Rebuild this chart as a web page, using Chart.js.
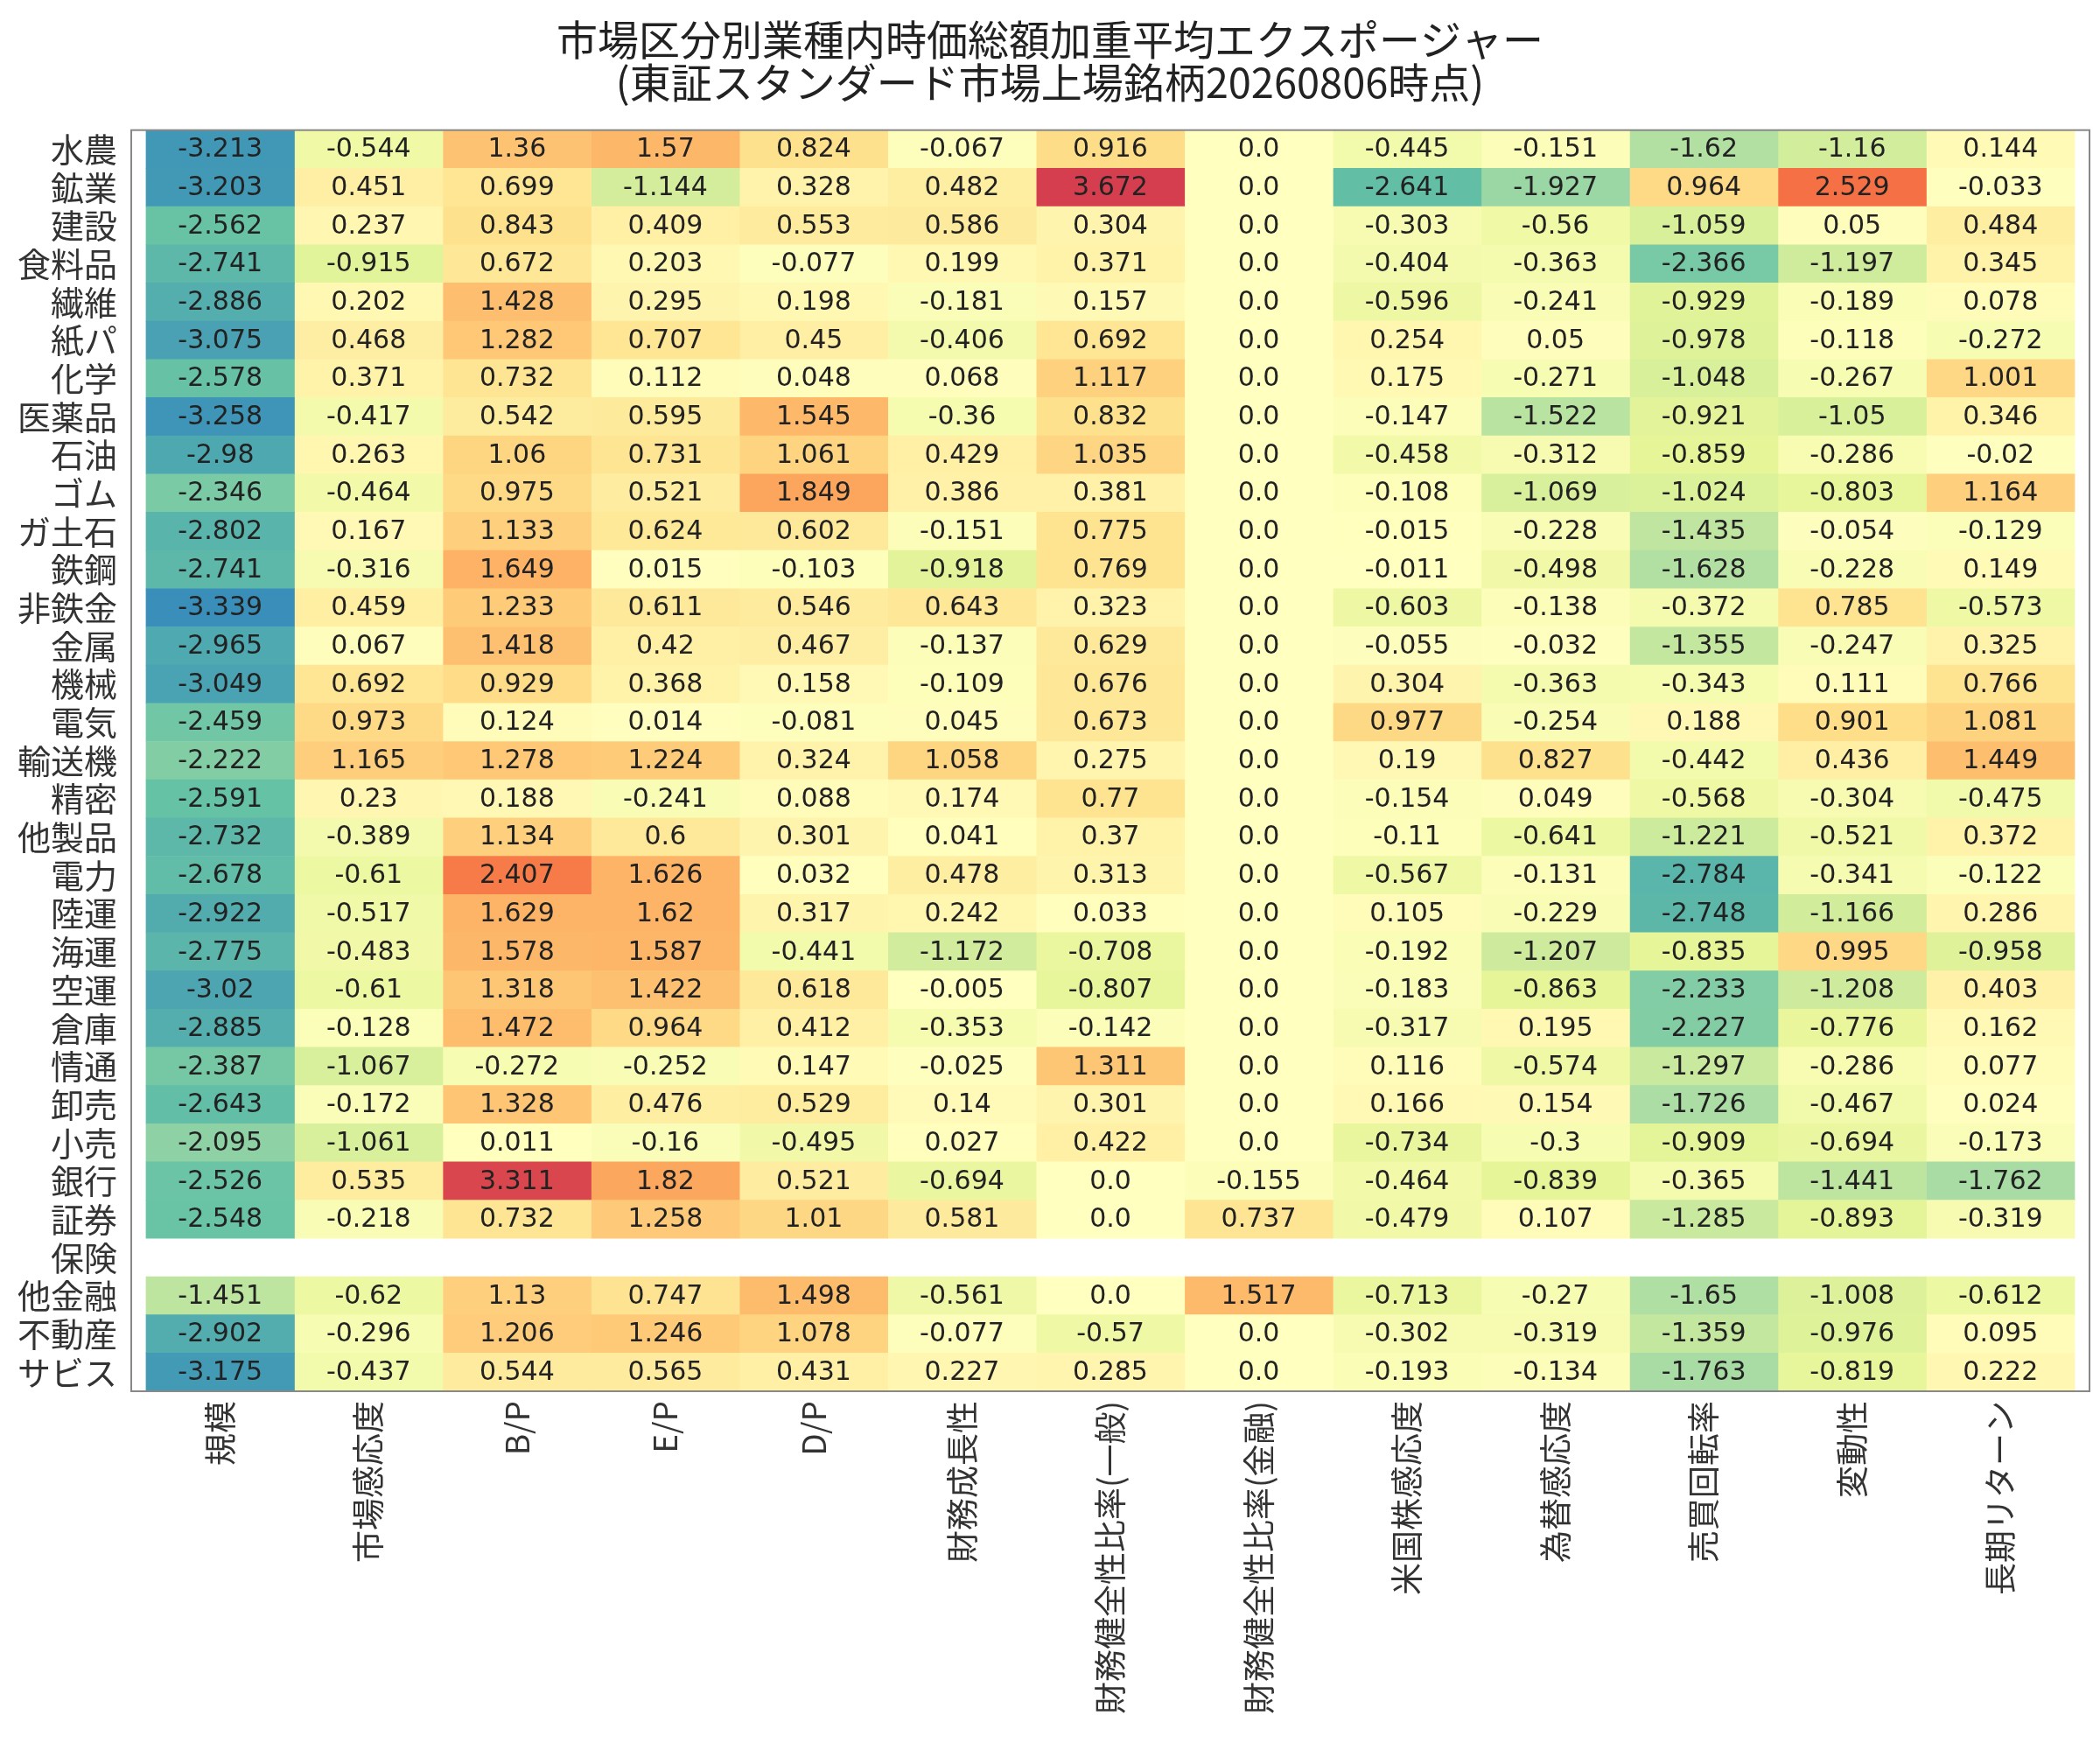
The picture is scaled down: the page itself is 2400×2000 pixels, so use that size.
<!DOCTYPE html>
<html>
<head>
<meta charset="utf-8">
<script src="https://cdn.jsdelivr.net/npm/chart.js@4"></script>
<style>
  body { margin: 0; background: #fff; }
  #wrap { width: 2400px; height: 2000px; }
</style>
</head>
<body>
<div id="wrap"><canvas id="heat"></canvas></div>
<script>
const sectors = ['水農','鉱業','建設','食料品','繊維','紙パ','化学','医薬品','石油','ゴム','ガ土石','鉄鋼','非鉄金','金属','機械','電気','輸送機','精密','他製品','電力','陸運','海運','空運','倉庫','情通','卸売','小売','銀行','証券','保険','他金融','不動産','サビス'];
const factors = ['規模','市場感応度','B/P','E/P','D/P','財務成長性','財務健全性比率(一般)','財務健全性比率(金融)','米国株感応度','為替感応度','売買回転率','変動性','長期リターン'];

const size = [-3.213,-3.203,-2.562,-2.741,-2.886,-3.075,-2.578,-3.258,-2.98,-2.346,-2.802,-2.741,-3.339,-2.965,-3.049,-2.459,-2.222,-2.591,-2.732,-2.678,-2.922,-2.775,-3.02,-2.885,-2.387,-2.643,-2.095,-2.526,-2.548,null,-1.451,-2.902,-3.175];
const beta = [-0.544,0.451,0.237,-0.915,0.202,0.468,0.371,-0.417,0.263,-0.464,0.167,-0.316,0.459,0.067,0.692,0.973,1.165,0.23,-0.389,-0.61,-0.517,-0.483,-0.61,-0.128,-1.067,-0.172,-1.061,0.535,-0.218,null,-0.62,-0.296,-0.437];
const bp = [1.36,0.699,0.843,0.672,1.428,1.282,0.732,0.542,1.06,0.975,1.133,1.649,1.233,1.418,0.929,0.124,1.278,0.188,1.134,2.407,1.629,1.578,1.318,1.472,-0.272,1.328,0.011,3.311,0.732,null,1.13,1.206,0.544];
const ep = [1.57,-1.144,0.409,0.203,0.295,0.707,0.112,0.595,0.731,0.521,0.624,0.015,0.611,0.42,0.368,0.014,1.224,-0.241,0.6,1.626,1.62,1.587,1.422,0.964,-0.252,0.476,-0.16,1.82,1.258,null,0.747,1.246,0.565];
const dp = [0.824,0.328,0.553,-0.077,0.198,0.45,0.048,1.545,1.061,1.849,0.602,-0.103,0.546,0.467,0.158,-0.081,0.324,0.088,0.301,0.032,0.317,-0.441,0.618,0.412,0.147,0.529,-0.495,0.521,1.01,null,1.498,1.078,0.431];
const growth = [-0.067,0.482,0.586,0.199,-0.181,-0.406,0.068,-0.36,0.429,0.386,-0.151,-0.918,0.643,-0.137,-0.109,0.045,1.058,0.174,0.041,0.478,0.242,-1.172,-0.005,-0.353,-0.025,0.14,0.027,-0.694,0.581,null,-0.561,-0.077,0.227];
const healthGen = [0.916,3.672,0.304,0.371,0.157,0.692,1.117,0.832,1.035,0.381,0.775,0.769,0.323,0.629,0.676,0.673,0.275,0.77,0.37,0.313,0.033,-0.708,-0.807,-0.142,1.311,0.301,0.422,0.0,0.0,null,0.0,-0.57,0.285];
const healthFin = [0,0,0,0,0,0,0,0,0,0,0,0,0,0,0,0,0,0,0,0,0,0,0,0,0,0,0,-0.155,0.737,null,1.517,0,0];
const usBeta = [-0.445,-2.641,-0.303,-0.404,-0.596,0.254,0.175,-0.147,-0.458,-0.108,-0.015,-0.011,-0.603,-0.055,0.304,0.977,0.19,-0.154,-0.11,-0.567,0.105,-0.192,-0.183,-0.317,0.116,0.166,-0.734,-0.464,-0.479,null,-0.713,-0.302,-0.193];
const fx = [-0.151,-1.927,-0.56,-0.363,-0.241,0.05,-0.271,-1.522,-0.312,-1.069,-0.228,-0.498,-0.138,-0.032,-0.363,-0.254,0.827,0.049,-0.641,-0.131,-0.229,-1.207,-0.863,0.195,-0.574,0.154,-0.3,-0.839,0.107,null,-0.27,-0.319,-0.134];
const turnover = [-1.62,0.964,-1.059,-2.366,-0.929,-0.978,-1.048,-0.921,-0.859,-1.024,-1.435,-1.628,-0.372,-1.355,-0.343,0.188,-0.442,-0.568,-1.221,-2.784,-2.748,-0.835,-2.233,-2.227,-1.297,-1.726,-0.909,-0.365,-1.285,null,-1.65,-1.359,-1.763];
const vol = [-1.16,2.529,0.05,-1.197,-0.189,-0.118,-0.267,-1.05,-0.286,-0.803,-0.054,-0.228,0.785,-0.247,0.111,0.901,0.436,-0.304,-0.521,-0.341,-1.166,0.995,-1.208,-0.776,-0.286,-0.467,-0.694,-1.441,-0.893,null,-1.008,-0.976,-0.819];
const longRet = [0.144,-0.033,0.484,0.345,0.078,-0.272,1.001,0.346,-0.02,1.164,-0.129,0.149,-0.573,0.325,0.766,1.081,1.449,-0.475,0.372,-0.122,0.286,-0.958,0.403,0.162,0.077,0.024,-0.173,-1.762,-0.319,null,-0.612,0.095,0.222];

const columns = [size, beta, bp, ep, dp, growth, healthGen, healthFin, usBeta, fx, turnover, vol, longRet];

// Spectral_r (端の色は除く)
const stops = ['#3288bd','#66c2a5','#abdda4','#e6f598','#ffffbf','#fee08b','#fdae61','#f46d43','#d53e4f'];
const zmax = 3.45;
function hex(h) { return [1,3,5].map(i => parseInt(h.substr(i,2),16)); }
function colorFor(v) {
    if (v === null) return 'rgba(0,0,0,0)';
    let t = (v + zmax) / (2 * zmax);
    t = Math.max(0, Math.min(1, t)) * (stops.length - 1);
    const i = Math.min(Math.floor(t), stops.length - 2);
    const f = t - i;
    const a = hex(stops[i]), b = hex(stops[i+1]);
    const c = a.map((x, k) => Math.round(x + (b[k] - x) * f));
    return `rgb(${c[0]},${c[1]},${c[2]})`;
}
function fmt(v) { return v === 0 ? '0.0' : String(v); }

const datasets = columns.map((col, i) => ({
    label: factors[i],
    data: col.map(v => v === null ? null : 1),
    raw: col,
    backgroundColor: col.map(colorFor),
    borderWidth: 0,
    barPercentage: 1,
    categoryPercentage: 1,
    stack: 's'
}));

const cellText = {
    id: 'cellText',
    afterDatasetsDraw(chart) {
        const ctx = chart.ctx;
        ctx.save();
        ctx.font = '30px "DejaVu Sans"';
        ctx.fillStyle = '#222';
        ctx.textAlign = 'center';
        ctx.textBaseline = 'middle';
        chart.data.datasets.forEach((ds, di) => {
            chart.getDatasetMeta(di).data.forEach((el, j) => {
                const v = ds.raw[j];
                if (v === null) return;
                ctx.fillText(fmt(v), (el.x + el.base) / 2, el.y + 1);
            });
        });
        ctx.restore();
    }
};

const frame = {
    id: 'frame',
    afterDraw(chart) {
        const a = chart.chartArea, ctx = chart.ctx;
        ctx.save();
        ctx.strokeStyle = '#888';
        ctx.lineWidth = 2;
        ctx.strokeRect(a.left, a.top, a.right - a.left, a.bottom - a.top);
        ctx.restore();
    }
};

new Chart(document.getElementById('heat'), {
    type: 'bar',
    data: { labels: sectors, datasets: datasets },
    options: {
        indexAxis: 'y',
        responsive: true,
        maintainAspectRatio: false,
        animation: false,
        layout: { padding: { left: 12, right: 12, top: 10, bottom: 38 } },
        plugins: {
            legend: { display: false },
            tooltip: { enabled: false },
            title: {
                display: true,
                text: ['市場区分別業種内時価総額加重平均エクスポージャー', '(東証スタンダード市場上場銘柄20260806時点)'],
                font: { size: 47, family: '"Noto Sans CJK JP"', weight: 'normal', lineHeight: 1.05 },
                color: '#222',
                padding: { top: 10, bottom: 30 }
            }
        },
        scales: {
            x: {
                type: 'linear',
                stacked: true,
                min: -0.1,
                max: 13.1,
                grid: { display: false },
                border: { display: false },
                afterBuildTicks(scale) {
                    scale.ticks = factors.map((_, i) => ({ value: i + 0.5 }));
                },
                ticks: {
                    autoSkip: false,
                    minRotation: 90,
                    maxRotation: 90,
                    color: '#333',
                    font: { size: 37, family: '"Noto Sans CJK JP"' },
                    callback: (v, i) => factors[i]
                }
            },
            y: {
                stacked: true,
                offset: true,
                grid: { display: false },
                border: { display: false },
                ticks: {
                    autoSkip: false,
                    color: '#333',
                    padding: 8,
                    font: { size: 38, family: '"Noto Sans CJK JP"' }
                }
            }
        }
    },
    plugins: [cellText, frame]
});
</script>
</body>
</html>
